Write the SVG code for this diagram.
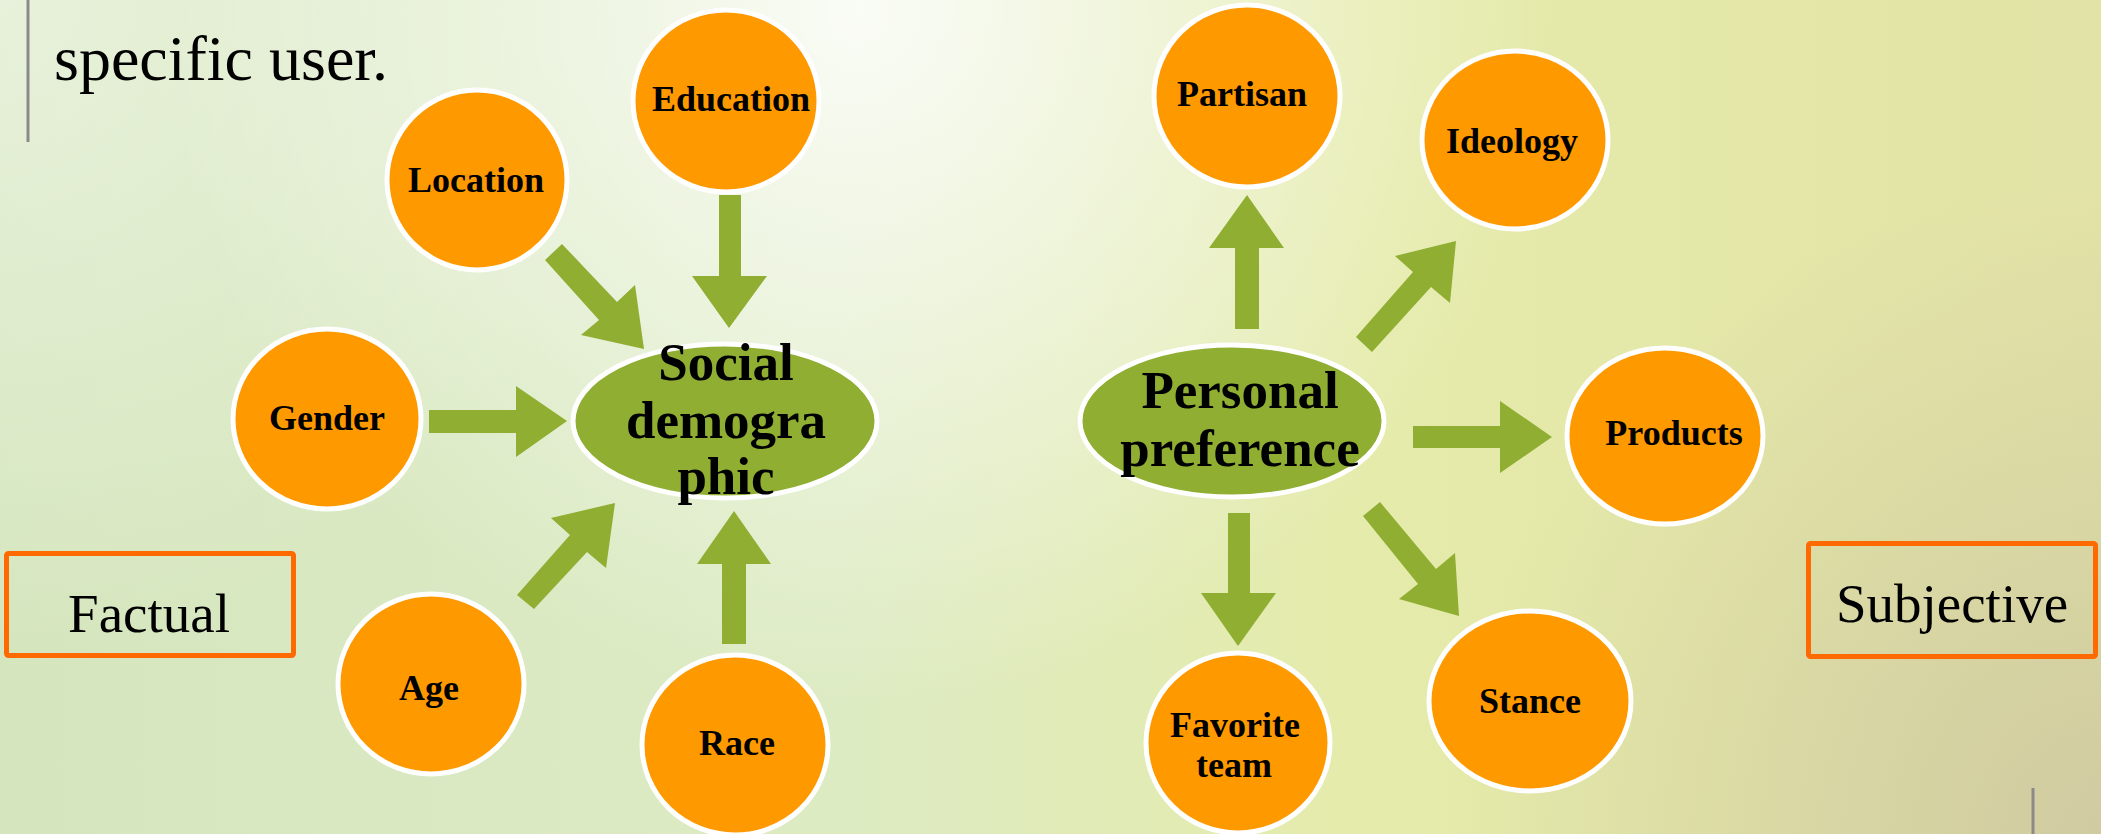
<svg xmlns="http://www.w3.org/2000/svg" width="2101" height="834" viewBox="0 0 2101 834">
  <defs>
    <linearGradient id="bgBase" x1="0" y1="0" x2="1" y2="0">
      <stop offset="0" stop-color="#D5E6BE"/>
      <stop offset="0.4" stop-color="#DDEBC3"/>
      <stop offset="0.65" stop-color="#E5EBAA"/>
      <stop offset="1" stop-color="#E2E3A6"/>
    </linearGradient>
    <radialGradient id="bgCorner" cx="0" cy="0" r="650" gradientUnits="userSpaceOnUse">
      <stop offset="0" stop-color="#FFFFFF" stop-opacity="0.45"/>
      <stop offset="1" stop-color="#FFFFFF" stop-opacity="0"/>
    </radialGradient>
    <radialGradient id="bgGlow" cx="860" cy="10" r="700" gradientUnits="userSpaceOnUse">
      <stop offset="0" stop-color="#FFFFFF" stop-opacity="0.85"/>
      <stop offset="1" stop-color="#FFFFFF" stop-opacity="0"/>
    </radialGradient>
    <radialGradient id="bgShade" cx="2101" cy="834" r="650" gradientUnits="userSpaceOnUse">
      <stop offset="0" stop-color="#CEC8A0" stop-opacity="0.9"/>
      <stop offset="1" stop-color="#CEC8A0" stop-opacity="0"/>
    </radialGradient>
  </defs>
  <style>
    .leaf { fill: #FF9900; stroke: #FFFFFF; stroke-width: 5; }
    .hub { fill: #8FAE32; stroke: #FFFFFF; stroke-width: 5; }
    .arrow { fill: #8FAE32; }
    .lbl { font-family: "Liberation Serif", "Times New Roman", serif; font-weight: bold; font-size: 36px; fill: #000000; text-anchor: middle; }
    .hubLbl { font-family: "Liberation Serif", "Times New Roman", serif; font-weight: bold; font-size: 53px; fill: #000000; text-anchor: middle; }
    .tag { fill: none; stroke: #FF6A00; stroke-width: 5; }
    .tagLbl { font-family: "Liberation Serif", "Times New Roman", serif; font-size: 55px; fill: #000000; text-anchor: middle; }
    .rule { stroke: #8A8A8A; stroke-width: 3; }
  </style>

  <!-- background -->
  <rect x="0" y="0" width="2101" height="834" fill="url(#bgBase)"/>
  <rect x="0" y="0" width="2101" height="834" fill="url(#bgCorner)"/>
  <rect x="0" y="0" width="2101" height="834" fill="url(#bgGlow)"/>
  <rect x="0" y="0" width="2101" height="834" fill="url(#bgShade)"/>

  <line class="rule" x1="28" y1="0" x2="28" y2="142"/>
  <line class="rule" x1="2033" y1="788" x2="2033" y2="834"/>

  <text x="54" y="80" font-family="'Liberation Serif', 'Times New Roman', serif" font-size="64" fill="#000000">specific user.</text>

  <!-- connectors -->
  <g id="connectors">
    <polygon class="arrow" points="562,244 617,302 635,285 644,349 581,335 599,320 545,260"/>
    <polygon class="arrow" points="719,195 741,195 741,276 767,276 729,328 692,276 719,276"/>
    <polygon class="arrow" points="429,410 516,410 516,386 567,421 516,457 516,433 429,433"/>
    <polygon class="arrow" points="517,595 570,535 551,518 615,503 606,568 587,552 534,609"/>
    <polygon class="arrow" points="722,644 722,564 697,564 734,511 771,564 746,564 746,644"/>
    <polygon class="arrow" points="1235,329 1235,248 1209,248 1247,195 1284,248 1259,248 1259,329"/>
    <polygon class="arrow" points="1356,337 1413,272 1395,256 1456,241 1450,303 1431,287 1372,352"/>
    <polygon class="arrow" points="1413,426 1500,426 1500,401 1552,437 1500,473 1500,448 1413,448"/>
    <polygon class="arrow" points="1228,513 1250,513 1250,593 1276,593 1238,646 1201,593 1228,593"/>
    <polygon class="arrow" points="1380,502 1436,569 1455,553 1459,616 1399,599 1418,584 1363,516"/>
  </g>

  <!-- social demographic cluster -->
  <g id="node-location">
    <ellipse class="leaf" cx="477" cy="180" rx="90" ry="90"/>
    <text class="lbl" x="476" y="192">Location</text>
  </g>
  <g id="node-education">
    <ellipse class="leaf" cx="726" cy="101" rx="93" ry="91"/>
    <text class="lbl" x="731" y="111">Education</text>
  </g>
  <g id="node-gender">
    <ellipse class="leaf" cx="327" cy="419" rx="94" ry="90"/>
    <text class="lbl" x="327" y="430">Gender</text>
  </g>
  <g id="node-age">
    <ellipse class="leaf" cx="431" cy="684" rx="93" ry="90"/>
    <text class="lbl" x="429" y="700">Age</text>
  </g>
  <g id="node-race">
    <ellipse class="leaf" cx="735" cy="745" rx="93" ry="90"/>
    <text class="lbl" x="737" y="755">Race</text>
  </g>
  <g id="node-social">
    <ellipse class="hub" cx="725" cy="421" rx="152" ry="77"/>
    <text class="hubLbl" font-size="52" x="726" y="380">Social</text>
    <text class="hubLbl" font-size="52" x="726" y="438">demogra</text>
    <text class="hubLbl" font-size="52" x="726" y="494">phic</text>
  </g>

  <!-- personal preference cluster -->
  <g id="node-partisan">
    <ellipse class="leaf" cx="1247" cy="96" rx="93" ry="91"/>
    <text class="lbl" x="1242" y="106">Partisan</text>
  </g>
  <g id="node-ideology">
    <ellipse class="leaf" cx="1515" cy="140" rx="93" ry="89"/>
    <text class="lbl" x="1512" y="153">Ideology</text>
  </g>
  <g id="node-products">
    <ellipse class="leaf" cx="1665" cy="436" rx="98" ry="88"/>
    <text class="lbl" x="1674" y="445">Products</text>
  </g>
  <g id="node-favorite">
    <ellipse class="leaf" cx="1238" cy="743" rx="92" ry="90"/>
    <text class="lbl" x="1235" y="737">Favorite</text>
    <text class="lbl" x="1234" y="777">team</text>
  </g>
  <g id="node-stance">
    <ellipse class="leaf" cx="1530" cy="701" rx="101" ry="90"/>
    <text class="lbl" x="1530" y="713">Stance</text>
  </g>
  <g id="node-personal">
    <ellipse class="hub" cx="1232" cy="421" rx="152" ry="76"/>
    <text class="hubLbl" x="1240" y="408">Personal</text>
    <text class="hubLbl" x="1240" y="466">preference</text>
  </g>

  <!-- category tags -->
  <g id="tag-factual">
    <rect class="tag" x="6.5" y="553.5" width="287" height="102" rx="2"/>
    <text class="tagLbl" x="149" y="632">Factual</text>
  </g>
  <g id="tag-subjective">
    <rect class="tag" x="1808.5" y="543.5" width="287" height="113" rx="2"/>
    <text class="tagLbl" x="1952" y="622">Subjective</text>
  </g>
</svg>
